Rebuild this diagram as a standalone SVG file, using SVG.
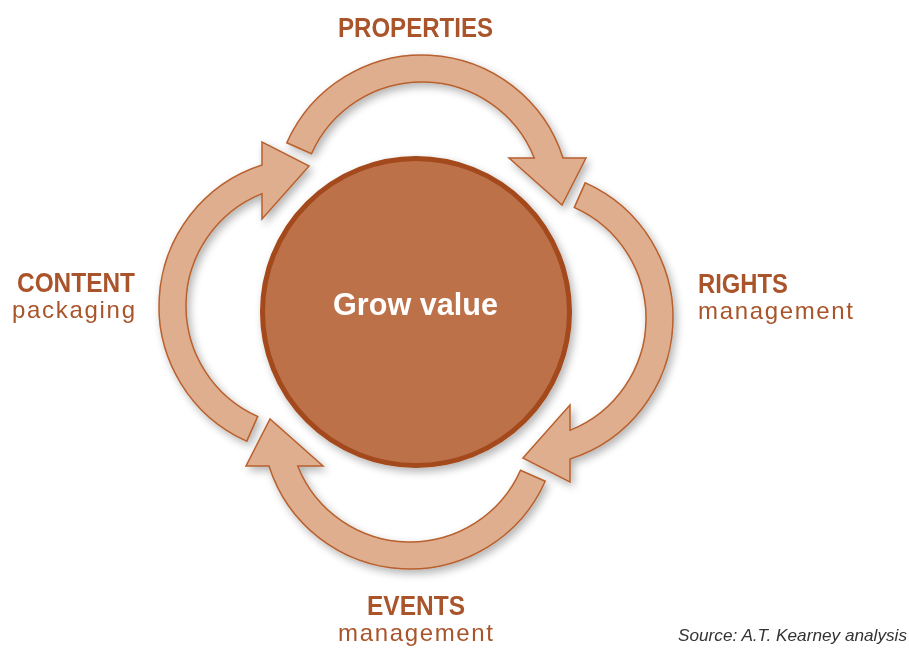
<svg xmlns="http://www.w3.org/2000/svg" width="909" height="648" viewBox="0 0 909 648">
<defs>
<filter id="sh" x="-20%" y="-20%" width="140%" height="140%">
<feGaussianBlur in="SourceAlpha" stdDeviation="4"/>
<feOffset dx="3" dy="4" result="b"/>
<feComponentTransfer><feFuncA type="linear" slope="0.3"/></feComponentTransfer>
<feMerge><feMergeNode/><feMergeNode in="SourceGraphic"/></feMerge>
</filter>
<path id="arr" d="M286.8,142.8 A148,148 0 0 1 563,158 L586,158 L562,205 L509,158 L534.3,158 A121,121 0 0 0 311.5,153.8 Z"/>
</defs>
<style>
.arrow{fill:#DEAE8E;stroke:#B8602E;stroke-width:1.5;stroke-linejoin:miter}
.lb{font-family:"Liberation Sans",Arial,sans-serif;font-weight:bold;font-size:27px;fill:#A9542A}
.ls{font-family:"Liberation Sans",Arial,sans-serif;font-size:24px;fill:#A9542A}
</style>
<rect width="909" height="648" fill="#ffffff"/>
<g id="connectors" filter="url(#sh)">
<use href="#arr" class="arrow"/>
<use href="#arr" class="arrow" transform="rotate(90 416 312)"/>
<use href="#arr" class="arrow" transform="rotate(180 416 312)"/>
<use href="#arr" class="arrow" transform="rotate(270 416 312)"/>
</g>
<g id="center" filter="url(#sh)">
<circle cx="416" cy="312" r="153.5" fill="#BC714A" stroke="#A3491B" stroke-width="5"/>
<text x="415.5" y="315" text-anchor="middle" font-family="Liberation Sans,Arial,sans-serif" font-weight="bold" font-size="32" fill="#ffffff" textLength="165" lengthAdjust="spacingAndGlyphs">Grow value</text>
</g>
<g id="properties">
<text class="lb" x="338" y="37" textLength="155" lengthAdjust="spacingAndGlyphs">PROPERTIES</text>
</g>
<g id="content">
<text class="lb" x="17" y="292" textLength="118" lengthAdjust="spacingAndGlyphs">CONTENT</text>
<text class="ls" x="12" y="318" textLength="123" lengthAdjust="spacing">packaging</text>
</g>
<g id="rights">
<text class="lb" x="698" y="293" textLength="90" lengthAdjust="spacingAndGlyphs">RIGHTS</text>
<text class="ls" x="698" y="319" textLength="155" lengthAdjust="spacing">management</text>
</g>
<g id="events">
<text class="lb" x="367" y="615" textLength="98" lengthAdjust="spacingAndGlyphs">EVENTS</text>
<text class="ls" x="338" y="641" textLength="155" lengthAdjust="spacing">management</text>
</g>
<text x="678" y="641" font-family="Liberation Sans,Arial,sans-serif" font-style="italic" font-size="17" fill="#333333" textLength="229" lengthAdjust="spacingAndGlyphs">Source: A.T. Kearney analysis</text>
</svg>
